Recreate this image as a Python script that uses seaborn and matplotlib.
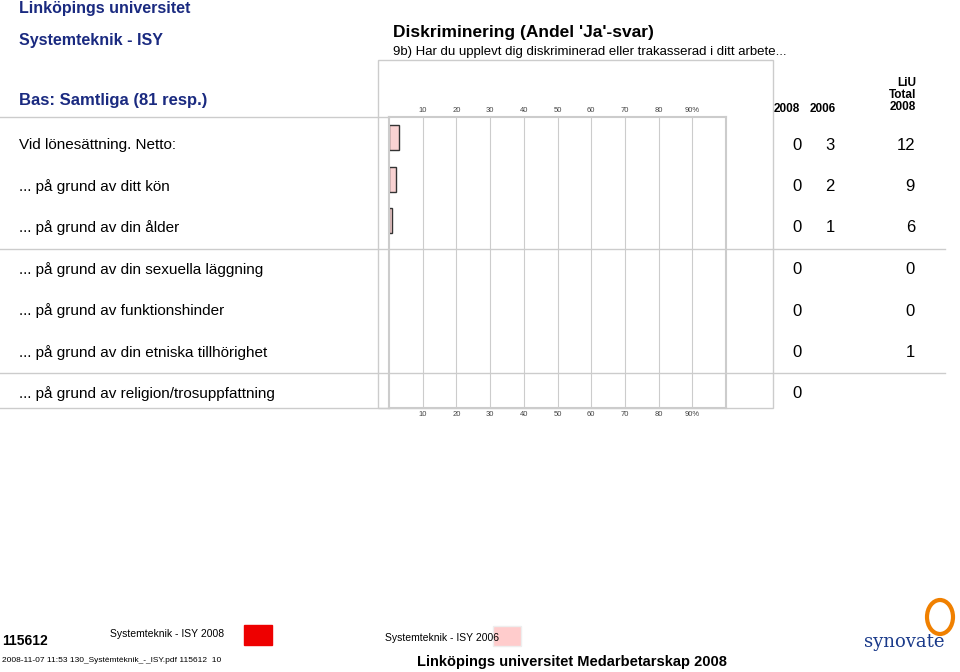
import matplotlib
matplotlib.use("Agg")
import matplotlib.pyplot as plt
import matplotlib.patches as mpatches
import pandas as pd
import seaborn as sns

# ── Data ──────────────────────────────────────────────────────
categories = ["Vid lönesättning. Netto:",
              "... på grund av ditt kön",
              "... på grund av din ålder",
              "... på grund av din sexuella läggning",
              "... på grund av funktionshinder",
              "... på grund av din etniska tillhörighet",
              "... på grund av religion/trosuppfattning"]
vals_2008 = [0, 0, 0, 0, 0, 0, 0]
vals_2006 = [3, 2, 1, None, None, None, None]
vals_liu = [12, 9, 6, 0, 0, 1, None]
ticks = [10, 20, 30, 40, 50, 60, 70, 80, 90]
tick_labels = ["10", "20", "30", "40", "50", "60", "70", "80", "90%"]

PINK = "#ffcccc"
RED = "#ee0000"
plt.rcParams["font.family"] = "Liberation Sans"

fig = plt.figure(figsize=(9.6, 6.72), dpi=100)
W, H = 960, 672
def fx(x): return x / W
def fy(y): return 1 - y / H

# outer frame
fig.patches.append(mpatches.Rectangle((fx(378), fy(408)), fx(773) - fx(378), fy(60) - fy(408),
                                      transform=fig.transFigure, fill=False, ec="#cccccc", lw=1))

ax = fig.add_axes([fx(389), fy(408), fx(726) - fx(389), fy(117) - fy(408)])
df = pd.DataFrame({"cat": categories, "v2006": vals_2006}).dropna()
sns.barplot(data=df, x="v2006", y="cat", order=categories, color=PINK, edgecolor="#333333",
            linewidth=1, width=0.6, ax=ax, orient="h")
ax.set_xlim(0, 100)
ax.set_ylim(6.5, -0.5)
ax.set_xticks(ticks)
ax.set_xticklabels(tick_labels, fontsize=5.5, color="#444444")
ax.tick_params(axis="x", length=0, top=True, labeltop=True, pad=2)
ax.set_yticks([])
ax.set_xlabel("")
ax.set_ylabel("")
ax.grid(axis="x", color="#cccccc", lw=0.8)
ax.set_axisbelow(True)
for s in ax.spines.values():
    s.set_color("#cccccc")
    s.set_linewidth(1.5)

# row texts
row_y = [145 + i * 41.5 for i in range(7)]
for i, cat in enumerate(categories):
    fig.text(fx(19), fy(row_y[i]), cat, fontsize=11, va="center", ha="left")
    if vals_2008[i] is not None:
        fig.text(fx(797), fy(row_y[i]), str(vals_2008[i]), fontsize=12, va="center", ha="center")
    if vals_2006[i] is not None:
        fig.text(fx(830), fy(row_y[i]), str(vals_2006[i]), fontsize=12, va="center", ha="center")
    if vals_liu[i] is not None:
        fig.text(fx(915), fy(row_y[i]), str(vals_liu[i]), fontsize=12, va="center", ha="right")

# separators
for y in [249, 373]:
    fig.add_artist(plt.Line2D([0, fx(945)], [fy(y), fy(y)], color="#cccccc", lw=1))
fig.add_artist(plt.Line2D([0, fx(389)], [fy(117), fy(117)], color="#cccccc", lw=1))
fig.add_artist(plt.Line2D([0, fx(389)], [fy(408), fy(408)], color="#cccccc", lw=1))

# column headers
fig.text(fx(787), fy(109), "2008", fontsize=8.5, ha="center", va="center", fontweight="bold")
fig.text(fx(823), fy(109), "2006", fontsize=8.5, ha="center", va="center", fontweight="bold")
fig.text(fx(916), fy(95), "LiU\nTotal\n2008", fontsize=8.5, ha="right", va="center",
         fontweight="bold", linespacing=1.05)

# header texts
fig.text(fx(19), fy(9), "Linköpings universitet", fontsize=11.5, fontweight="bold", color="#1a2a80", va="center")
fig.text(fx(19), fy(41), "Systemteknik - ISY", fontsize=11.5, fontweight="bold", color="#1a2a80", va="center")
fig.text(fx(19), fy(101), "Bas: Samtliga (81 resp.)", fontsize=12, fontweight="bold", color="#1a2a80", va="center")
fig.text(fx(393), fy(33), "Diskriminering (Andel 'Ja'-svar)", fontsize=12.5, fontweight="bold", va="center")
fig.text(fx(393), fy(52), "9b) Har du upplevt dig diskriminerad eller trakasserad i ditt arbete...",
         fontsize=9.5, va="center")

# legend / footer
fig.text(fx(110), fy(634), "Systemteknik - ISY 2008", fontsize=7.5, va="center")
fig.patches.append(mpatches.Rectangle((fx(244), fy(645)), fx(28), fy(625) - fy(645),
                                      transform=fig.transFigure, fc=RED, ec=RED))
fig.text(fx(385), fy(638), "Systemteknik - ISY 2006", fontsize=7.5, va="center")
fig.patches.append(mpatches.Rectangle((fx(493), fy(646)), fx(28), fy(626) - fy(646),
                                      transform=fig.transFigure, fc=PINK, ec="#eeeeee"))
fig.text(fx(2), fy(641), "115612", fontsize=10, fontweight="bold", va="center")
fig.text(fx(2), fy(661), "2008-11-07 11:53 130_Systèmtèknik_-_ISY.pdf 115612  10", fontsize=6,
         va="center")
fig.text(fx(572), fy(662), "Linköpings universitet Medarbetarskap 2008", fontsize=10.5,
         fontweight="bold", va="center", ha="center")
fig.text(fx(904), fy(642), "synovate", fontsize=13, color="#1a3a8a", va="center", ha="center",
         fontfamily="DejaVu Serif")
fig.patches.append(mpatches.Ellipse((fx(940), fy(617)), fx(26), fy(600) - fy(634),
                                    transform=fig.transFigure, fill=False, ec="#f08000", lw=3))

fig.savefig("out.png", dpi=100)
